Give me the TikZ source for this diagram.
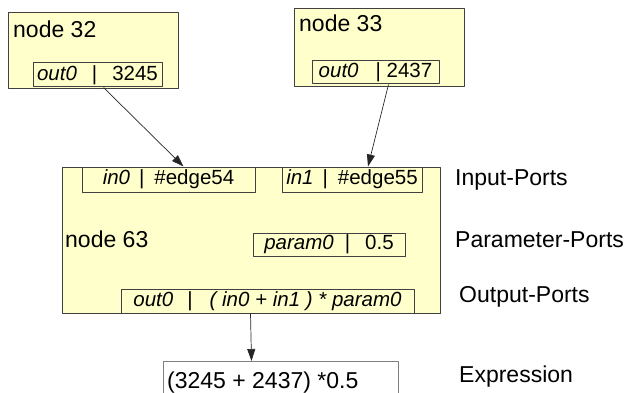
\documentclass[tikz,border=0pt]{standalone}
\usepackage{fontspec}
\setmainfont{Liberation Sans}
\usetikzlibrary{arrows.meta}
\definecolor{boxfill}{HTML}{FFFFCC}
\definecolor{boxline}{HTML}{404040}
\begin{document}
\begin{tikzpicture}[x=1pt, y=-1pt, line join=round, >={Triangle[length=12pt,width=8pt]},
	block/.style={draw=boxline, line width=1.2pt, fill=boxfill, anchor=north west, inner sep=0pt},
	port/.style={draw=boxline, line width=1pt, fill=boxfill, inner sep=0pt, font=\fontsize{20.5}{24}\selectfont},
	title/.style={inner sep=0pt, anchor=base west, font=\fontsize{23}{27}\selectfont},
	link/.style={->, draw=black!85, line width=0.7pt}]
	%%%%%%%%%%%%%%%%%%%%%%%%%%%%%%%%%
	\useasboundingbox (0,0) rectangle (626,393);
	\clip (0,0) rectangle (626,393);
	%%%%%%%%%%%%%%%%%%%%%%%%%%%%%%%%%
	% source nodes
	\node[block, minimum width=170pt, minimum height=76pt] (n32) at (8,12) {};
	\node[title] (n32t) at (13,38) {node 32};
	\node[port, minimum width=129pt, minimum height=24pt] (p32) at (97.5,75)
		{\textit{out0}\hspace{15pt}|\hspace{15pt}3245};
	\node[block, minimum width=170pt, minimum height=78pt] (n33) at (294,8) {};
	\node[title] (n33t) at (299,32) {node 33};
	\node[port, minimum width=127pt, minimum height=23pt] (p33) at (375.5,72.5)
		{\textit{out0}\hspace{17pt}|~2437};
	%%%%%%%%%%%%%%%%%%%%%%%%%%%%%%%%%
	% combining node
	\node[block, minimum width=378pt, minimum height=146pt] (n63) at (62,167) {};
	\node[title] (n63t) at (65,247) {node 63};
	\node[port, minimum width=173pt, minimum height=25pt] (in0) at (168.5,179.5)
		{\textit{in0}\hspace{9pt}|\hspace{10pt}\#edge54};
	\node[port, minimum width=140pt, minimum height=25pt] (in1) at (352,179.5)
		{\textit{in1}\hspace{9pt}|\hspace{10pt}\#edge55};
	\node[port, minimum width=152pt, minimum height=23pt] (par0) at (329,244.5)
		{\textit{param0}\hspace{11pt}|\hspace{15pt}0.5};
	\node[port, minimum width=293pt, minimum height=24pt] (out0) at (267.5,301)
		{\textit{out0}\hspace{14pt}|\hspace{17pt}\textit{( in0 + in1 ) * param0}};
	%%%%%%%%%%%%%%%%%%%%%%%%%%%%%%%%%
	% result
	\node[draw=black!50, line width=1pt, anchor=north west, inner sep=0pt,
		minimum width=235pt, minimum height=45pt] (ex) at (163,361) {};
	\node[title] (ext) at (167,388) {(3245 + 2437) *0.5};
	%%%%%%%%%%%%%%%%%%%%%%%%%%%%%%%%%
	\draw[link] ([xshift=6pt]p32.south) -- ([xshift=15pt]in0.north);
	\draw[link] ([xshift=13pt]p33.south) -- ([xshift=16pt]in1.north);
	\draw[link] ([xshift=-17pt]out0.south) -- ([xshift=-29.5pt]ex.north);
	%%%%%%%%%%%%%%%%%%%%%%%%%%%%%%%%%
	% legend
	\node[title] (lin) at (455,185) {Input-Ports};
	\node[title] (lpar) at (455,247) {Parameter-Ports};
	\node[title] (lout) at (459,302) {Output-Ports};
	\node[title] (lex) at (459,382) {Expression};
	%%%%%%%%%%%%%%%%%%%%%%%%%%%%%%%%%
\end{tikzpicture}
\end{document}
